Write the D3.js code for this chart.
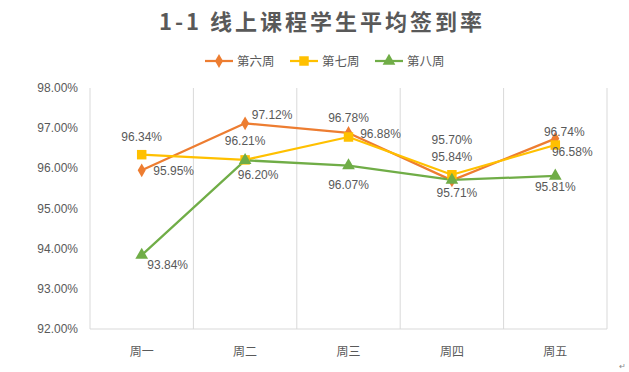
<!DOCTYPE html>
<html>
<head>
<meta charset="utf-8">
<script src="https://cdn.jsdelivr.net/npm/d3@7"></script>
<style>
  body { margin: 0; background: #fff; }
  text { font-family: "Liberation Sans", "Noto Sans CJK SC", sans-serif; fill: #595959; }
</style>
</head>
<body>
<svg width="629" height="372"></svg>
<script>
var days = ['周一', '周二', '周三', '周四', '周五'];
var week6 = [95.95, 97.12, 96.88, 95.70, 96.74];
var week7 = [96.34, 96.21, 96.78, 95.84, 96.58];
var week8 = [93.84, 96.20, 96.07, 95.71, 95.81];
var yTicks = [92, 93, 94, 95, 96, 97, 98];

// where each data label sits relative to its point (label centre)
var labelPos6 = [[32, 1], [27, -8], [32, 1], [0, -40], [9, -7]];
var labelPos7 = [[0, -18], [0, -19], [0, -19], [0, -18], [17, 7]];
var labelPos8 = [[26, 10], [13, 15], [0, 19], [5, 13], [0, 11]];

var series = [
    { name: '第六周', values: week6, color: '#ED7D31', marker: 'diamond', labels: labelPos6 },
    { name: '第七周', values: week7, color: '#FFC000', marker: 'square', labels: labelPos7 },
    { name: '第八周', values: week8, color: '#70AD47', marker: 'triangle', labels: labelPos8 }
];

var svg = d3.select('svg');
var plotLeft = 90, plotRight = 607, plotTop = 88, plotBottom = 329;

var x = d3.scaleBand().domain(days).range([plotLeft, plotRight]);
var y = d3.scaleLinear().domain([92, 98]).range([plotBottom, plotTop]);

// title
svg.append('text')
    .attr('x', 322).attr('y', 30)
    .attr('text-anchor', 'middle')
    .style('font-family', '"Noto Sans CJK SC", serif')
    .style('font-size', '22px')
    .style('font-weight', '600')
    .style('letter-spacing', '3px')
    .text('1-1 线上课程学生平均签到率');

// vertical gridlines at category edges
var edges = days.map(d => x(d)).concat([plotRight]);
svg.selectAll('line.grid')
    .data(edges)
    .enter().append('line')
    .attr('class', 'grid')
    .attr('x1', d => d).attr('x2', d => d)
    .attr('y1', plotTop).attr('y2', plotBottom)
    .attr('stroke', '#d9d9d9').attr('stroke-width', 1);

svg.append('line')
    .attr('x1', plotLeft).attr('x2', plotRight)
    .attr('y1', plotBottom).attr('y2', plotBottom)
    .attr('stroke', '#d9d9d9').attr('stroke-width', 1);

// y axis labels
svg.selectAll('text.ytick')
    .data(yTicks)
    .enter().append('text')
    .attr('class', 'ytick')
    .attr('x', 78).attr('y', d => y(d) + 4)
    .attr('text-anchor', 'end')
    .style('font-size', '12px')
    .text(d => d.toFixed(2) + '%');

// x axis labels
svg.selectAll('text.xtick')
    .data(days)
    .enter().append('text')
    .attr('class', 'xtick')
    .attr('x', d => x(d) + x.bandwidth() / 2).attr('y', 356)
    .attr('text-anchor', 'middle')
    .style('font-family', '"Noto Sans CJK SC", sans-serif')
    .style('font-size', '12px')
    .text(d => d);

var cx = (d, i) => x(days[i]) + x.bandwidth() / 2;

var line = d3.line()
    .x(cx)
    .y(d => y(d));

var symbols = { diamond: d3.symbolDiamond, square: d3.symbolSquare, triangle: d3.symbolTriangle };
var sizes = { diamond: 55, square: 90, triangle: 70 };

series.forEach(s => {
    svg.append('path')
        .attr('d', line(s.values))
        .attr('fill', 'none')
        .attr('stroke', s.color)
        .attr('stroke-width', 2.25)
        .attr('stroke-linejoin', 'round');
});

series.forEach(s => {
    var sym = d3.symbol().type(symbols[s.marker]).size(sizes[s.marker]);
    svg.selectAll(null)
        .data(s.values)
        .enter().append('path')
        .attr('d', sym)
        .attr('transform', (d, i) => 'translate(' + cx(d, i) + ',' + y(d) + ')')
        .attr('fill', s.color);
});

series.forEach(s => {
    svg.selectAll(null)
        .data(s.values)
        .enter().append('text')
        .attr('x', (d, i) => cx(d, i) + s.labels[i][0])
        .attr('y', (d, i) => y(d) + s.labels[i][1] + 4)
        .attr('text-anchor', 'middle')
        .style('font-size', '12px')
        .text(d => d.toFixed(2) + '%');
});

// legend
var legend = svg.append('g');
var legendX = [205, 290, 375];
series.forEach((s, i) => {
    var g = legend.append('g').attr('transform', 'translate(' + legendX[i] + ',61)');
    g.append('line').attr('x1', 0).attr('x2', 28).attr('y1', 0).attr('y2', 0)
        .attr('stroke', s.color).attr('stroke-width', 2.25);
    g.append('path')
        .attr('d', d3.symbol().type(symbols[s.marker]).size(sizes[s.marker])())
        .attr('transform', 'translate(14,0)')
        .attr('fill', s.color);
    g.append('text')
        .attr('x', 32).attr('y', 4.5)
        .style('font-family', '"Noto Sans CJK SC", sans-serif')
        .style('font-size', '12.5px')
        .text(s.name);
});

svg.append('text')
    .attr('x', 619).attr('y', 369)
    .style('font-size', '8px')
    .style('fill', '#888')
    .text('↵');
</script>
</body>
</html>
